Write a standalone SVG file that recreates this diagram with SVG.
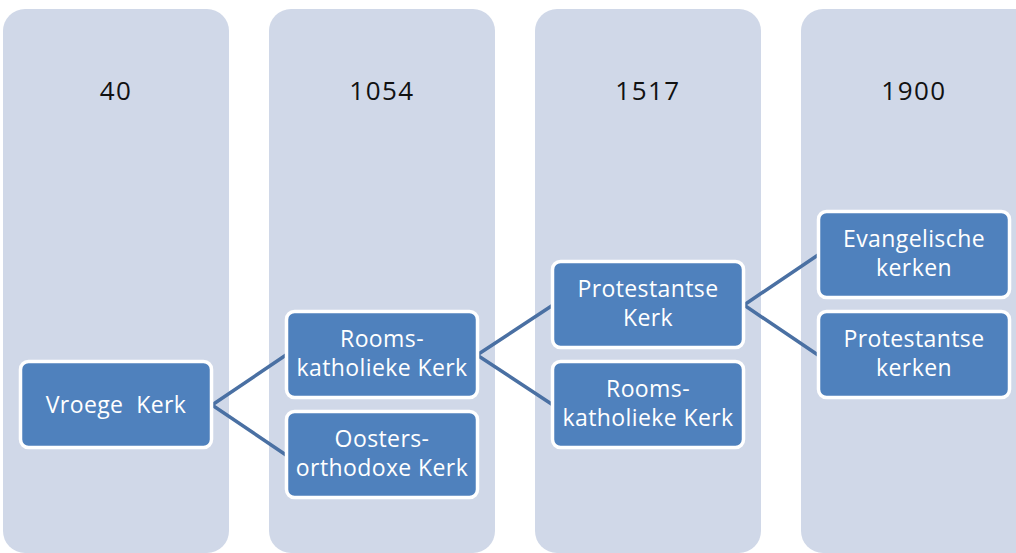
<svg xmlns="http://www.w3.org/2000/svg" width="1016" height="553" viewBox="0 0 1016 553">
<style>
.col{fill:#d0d8e8}
.yr{font-family:"Open Sans","Liberation Sans",sans-serif;font-size:26px;fill:#111111;text-anchor:middle;letter-spacing:1.5px}
.node rect{fill:#4f81bd;stroke:#ffffff;stroke-width:3.5}
.node text{font-family:"Open Sans","Liberation Sans",sans-serif;font-size:23px;fill:#ffffff;text-anchor:middle;letter-spacing:0.4px}
.conn{stroke:#4a70a3;stroke-width:3.5;fill:none}
</style>
<rect width="1016" height="553" fill="#ffffff"/>
<g id="columns">
<rect class="col" x="3" y="9" width="226" height="544" rx="22"/>
<rect class="col" x="269" y="9" width="226" height="544" rx="22"/>
<rect class="col" x="535" y="9" width="226" height="544" rx="22"/>
<rect class="col" x="801" y="9" width="240" height="544" rx="22"/>
<text class="yr" x="116" y="100">40</text>
<text class="yr" x="382" y="100">1054</text>
<text class="yr" x="648" y="100">1517</text>
<text class="yr" x="914" y="100">1900</text>
</g>
<g id="connectors">
<polyline class="conn" points="286,355 212,405 286,455"/>
<polyline class="conn" points="553,305 477,355 553,405"/>
<polyline class="conn" points="818,255 744,305 818,355"/>
</g>
<g id="n-vroege" class="node">
<rect x="20.5" y="361.5" width="191" height="86" rx="8"/>
<text x="116" y="413" xml:space="preserve">Vroege  Kerk</text>
</g>
<g id="n-rk1" class="node">
<rect x="286.5" y="311.5" width="191" height="86" rx="8"/>
<text x="382" y="347">Rooms-</text>
<text x="382" y="376">katholieke Kerk</text>
</g>
<g id="n-oo" class="node">
<rect x="286.5" y="411.5" width="191" height="86" rx="8"/>
<text x="382" y="447">Oosters-</text>
<text x="382" y="476">orthodoxe Kerk</text>
</g>
<g id="n-prot1" class="node">
<rect x="552.5" y="261.5" width="191" height="86" rx="8"/>
<text x="648" y="297">Protestantse</text>
<text x="648" y="326">Kerk</text>
</g>
<g id="n-rk2" class="node">
<rect x="552.5" y="361.5" width="191" height="86" rx="8"/>
<text x="648" y="397">Rooms-</text>
<text x="648" y="426">katholieke Kerk</text>
</g>
<g id="n-evang" class="node">
<rect x="818.5" y="211.5" width="191" height="86" rx="8"/>
<text x="914" y="247">Evangelische</text>
<text x="914" y="276">kerken</text>
</g>
<g id="n-prot2" class="node">
<rect x="818.5" y="311.5" width="191" height="86" rx="8"/>
<text x="914" y="347">Protestantse</text>
<text x="914" y="376">kerken</text>
</g>
</svg>
